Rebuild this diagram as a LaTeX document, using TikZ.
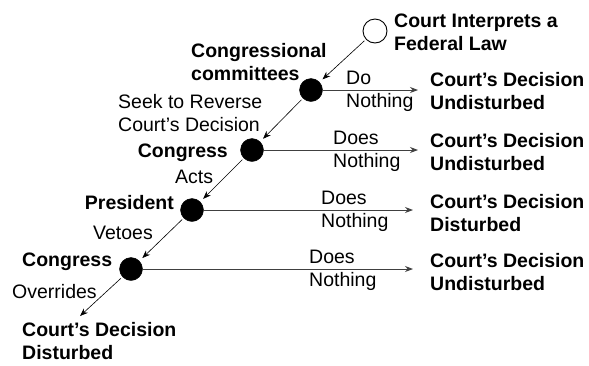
\documentclass[tikz,border=0pt]{standalone}
\usepackage{fontspec}
\setmainfont{Liberation Sans}
\usetikzlibrary{arrows.meta}
\begin{document}
\begin{tikzpicture}[x=1pt,y=-1pt,
  hub/.style={circle,fill=black,draw=black,minimum size=23pt,inner sep=0pt},
  openhub/.style={circle,fill=white,draw=black,line width=0.9pt,minimum size=24pt,inner sep=0pt},
  lab/.style={font=\fontsize{19.5}{23}\selectfont,inner sep=0pt,align=left,anchor=west},
  blab/.style={lab,font=\fontsize{19.5}{23}\selectfont\bfseries},
  flow/.style={-{Stealth[length=8pt,width=6pt]},line width=0.6pt,black},
  hflow/.style={-{Stealth[length=8pt,width=6pt]},line width=0.9pt,black!75}
]
\useasboundingbox (0,0) rectangle (589,365);
% hubs
\node[openhub] (c0) at (375,31) {};
\node[hub] (c1) at (311,90) {};
\node[hub] (c2) at (252,150) {};
\node[hub] (c3) at (192,210) {};
\node[hub] (c4) at (131,269) {};
\coordinate (e0) at (80,316);
% texts left
\node[blab] (t0) at (394,32) {Court Interprets a\\Federal Law};
\node[blab] (tcc) at (191,62) {Congressional\\committees};
\node[lab] (tseek) at (118,113) {Seek to Reverse\\Court’s Decision};
\node[blab,anchor=east] (tcong1) at (228,153) {Congress};
\node[lab] (tacts) at (175,177) {Acts};
\node[blab,anchor=east] (tpres) at (174,203) {President};
\node[lab] (tveto) at (93,233) {Vetoes};
\node[blab] (tcong2) at (22,262) {Congress};
\node[lab] (tover) at (12,292) {Overrides};
\node[blab] (tfin) at (22,341) {Court’s Decision\\Disturbed};
% right
\node[lab] (n1) at (346,91) {Do\\Nothing};
\node[blab] (r1) at (430,91) {Court’s Decision\\Undisturbed};
\node[lab] (n2) at (333,151) {Does\\Nothing};
\node[blab] (r2) at (430,152) {Court’s Decision\\Undisturbed};
\node[lab] (n3) at (321,211) {Does\\Nothing};
\node[blab] (r3) at (430,213) {Court’s Decision\\Disturbed};
\node[lab] (n4) at (309,270) {Does\\Nothing};
\node[blab] (r4) at (430,272) {Court’s Decision\\Undisturbed};
% connectors
\draw[flow,shorten <=2pt,shorten >=4pt] (c0) -- (c1);
\draw[flow,shorten <=2pt,shorten >=4pt] (c1) -- (c2);
\draw[flow,shorten <=2pt,shorten >=4pt] (c2) -- (c3);
\draw[flow,shorten <=2pt,shorten >=4pt] (c3) -- (c4);
\draw[flow,shorten <=2pt] (c4) -- (e0);
\draw[hflow] (c1.east) -- (418,90);
\draw[hflow] (c2.east) -- (418,150);
\draw[hflow] (c3.east) -- (413,210);
\draw[hflow] (c4.east) -- (413,269);
\end{tikzpicture}
\end{document}
